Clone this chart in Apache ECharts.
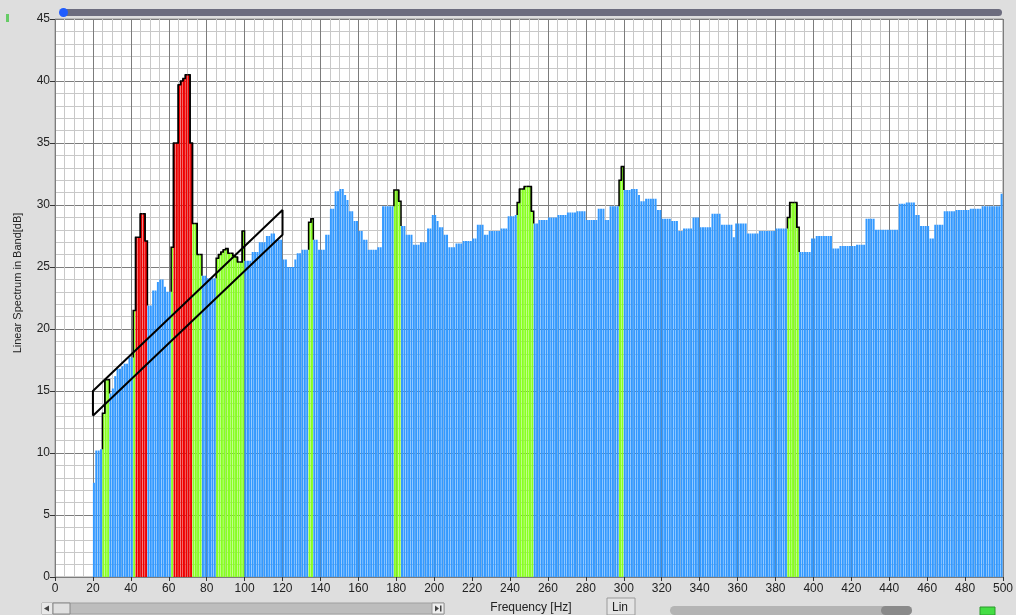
<!DOCTYPE html>
<html>
<head>
<meta charset="utf-8">
<script src="https://cdn.jsdelivr.net/npm/echarts@6.0.0/dist/echarts.min.js"></script>
<style>
  html, body { margin: 0; padding: 0; background: #dedede; }
  #chart { width: 1016px; height: 615px; }
</style>
</head>
<body>
<div id="chart"></div>
<script>
// ---- data ----
const binStart = 20;      // Hz, first band start
const binWidth = 1.25;    // Hz, band width
// Linear spectrum in band [dB], one value per band, 20..500 Hz
const spectrum = [
  7.6,10.2,10.2,10.3,13.2,15.9,15.9,14.8,
  15.2,16.2,16.8,16.8,17.0,17.2,17.2,17.7,
  17.7,21.5,27.4,27.4,29.3,29.3,27.1,21.9,
  21.9,23.1,23.1,23.8,24.0,24.0,23.4,23.0,
  23.0,26.6,35.0,35.0,39.7,40.0,40.2,40.5,
  40.5,35.0,28.5,28.5,26.0,26.0,24.3,24.3,
  24.1,24.1,24.1,24.1,25.7,26.0,26.2,26.4,
  26.5,26.1,26.1,25.9,25.8,25.4,25.4,27.9,
  25.5,25.5,25.5,26.2,26.2,26.2,27.0,27.0,
  27.0,27.5,27.5,27.7,27.7,27.2,27.2,27.2,
  25.6,25.6,25.0,25.0,25.0,25.6,26.1,26.1,
  26.4,26.4,26.4,28.6,28.9,27.2,27.2,26.4,
  26.4,26.4,27.6,27.6,29.7,29.7,31.1,31.1,
  31.3,31.3,30.8,30.4,29.5,29.5,28.7,28.7,
  27.9,27.9,27.2,27.2,26.4,26.4,26.4,26.4,
  26.6,26.6,29.9,29.9,29.9,29.9,29.9,31.2,
  31.2,30.3,28.3,28.3,27.6,27.6,27.6,26.8,
  26.8,26.8,27.0,27.0,27.0,28.1,28.1,29.2,
  29.2,28.7,28.2,28.2,27.6,27.6,26.6,26.6,
  26.6,26.9,26.9,26.9,27.1,27.1,27.1,27.1,
  27.3,27.3,28.4,28.4,28.4,27.6,27.6,27.9,
  27.9,27.9,27.9,27.9,28.1,28.1,28.1,29.1,
  29.1,29.1,29.2,30.2,31.3,31.3,31.5,31.5,
  31.5,29.5,28.5,28.5,28.8,28.8,28.8,28.8,
  29.0,29.0,29.0,29.0,29.2,29.2,29.2,29.2,
  29.4,29.4,29.4,29.4,29.5,29.5,29.5,29.5,
  28.8,28.8,28.8,28.8,28.8,29.7,29.7,29.7,
  28.8,28.8,29.9,29.9,29.9,29.9,32.0,33.1,
  31.2,31.2,31.2,31.3,31.3,31.3,30.8,30.3,
  30.3,30.5,30.5,30.5,30.5,30.5,29.6,29.6,
  28.9,28.9,28.9,28.9,28.7,28.7,28.7,27.9,
  27.9,28.1,28.1,28.1,28.1,29.0,29.0,29.0,
  28.2,28.2,28.2,28.2,28.2,29.3,29.3,29.3,
  29.3,28.4,28.4,28.4,28.4,28.4,27.4,28.5,
  28.5,28.5,28.5,28.5,27.7,27.7,27.7,27.7,
  27.7,27.9,27.9,27.9,27.9,27.9,27.9,27.9,
  28.1,28.1,28.1,28.1,28.1,29.0,30.2,30.2,
  30.2,28.2,26.2,26.2,26.2,26.2,26.2,27.3,
  27.3,27.5,27.5,27.5,27.5,27.5,27.5,27.5,
  26.5,26.5,26.5,26.7,26.7,26.7,26.7,26.7,
  26.7,26.7,26.8,26.8,26.8,26.8,28.9,28.9,
  28.9,28.9,28.0,28.0,28.0,28.0,28.0,28.0,
  28.0,28.0,28.0,28.0,30.1,30.1,30.1,30.2,
  30.2,30.2,30.2,29.2,29.2,28.3,28.3,28.3,
  28.3,27.3,27.3,28.4,28.4,28.4,28.4,29.5,
  29.5,29.5,29.5,29.5,29.6,29.6,29.6,29.6,
  29.6,29.6,29.7,29.7,29.7,29.7,29.7,29.9,
  29.9,29.9,29.9,29.9,29.9,29.9,29.9,30.9
];
// frequency ranges [Hz] of bands flagged green / red
const greenBands = [[25,28.75],[41.25,42.5],[61.25,62.5],[72.5,77.5],[85,100],
  [133.75,136.25],[178.75,182.5],[243.75,252.5],[297.5,300],[386.25,392.5]];
const redBands = [[42.5,48.75],[62.5,72.5]];
// alarm mask outline [Hz, dB]
const maskPoints = [[20,13],[20,15],[120,29.6],[120,27.6],[20,13]];
const xMin = 0, xMax = 500, xStep = 20;
const yMin = 0, yMax = 45, yStep = 5;

// ---- build ----
const COLORS = ['#3399ff', '#88ff22', '#ee0000'];
function inBands(f, bands) { return bands.some(b => f > b[0] && f < b[1]); }
const bands = spectrum.map((v, i) => {
  const c = binStart + binWidth * (i + 0.5);
  const cls = inBands(c, redBands) ? 2 : (inBands(c, greenBands) ? 1 : 0);
  const prev = i > 0 ? spectrum[i - 1] : 0;
  const next = i < spectrum.length - 1 ? spectrum[i + 1] : 0;
  return [c, v, cls, prev, next];
});

const chart = echarts.init(document.getElementById('chart'), null, { renderer: 'canvas' });
const FONT = 'Liberation Sans';
const GAP = 0.4;

function barItem(params, api) {
  const c = api.value(0), v = api.value(1), cls = api.value(2);
  const h = binWidth / 2;
  const tl = api.coord([c - h, v]);
  const br = api.coord([c + h, 0]);
  return {
    type: 'rect',
    shape: { x: tl[0], y: tl[1], width: Math.max(br[0] - tl[0] - GAP, 0.4), height: br[1] - tl[1] },
    style: { fill: COLORS[cls] }
  };
}
function outlineItem(params, api) {
  const cls = api.value(2);
  if (!cls) return null;
  const c = api.value(0), v = api.value(1), prev = api.value(3), next = api.value(4);
  const h = binWidth / 2;
  const tl = api.coord([c - h, v]);
  const br = api.coord([c + h, 0]);
  const yp = api.coord([c, prev])[1];
  const yn = api.coord([c, next])[1];
  return {
    type: 'polyline',
    shape: { points: [[tl[0], yp], [tl[0], tl[1]], [br[0], tl[1]], [br[0], yn]] },
    style: { stroke: '#000', lineWidth: 1.5, fill: null }
  };
}

const option = {
  animation: false,
  backgroundColor: '#dedede',
  grid: { left: 55, right: 8, top: 19, bottom: 38, show: true, backgroundColor: '#ffffff', borderColor: '#9a9a9a', borderWidth: 1 },
  xAxis: {
    type: 'value', min: xMin, max: xMax, interval: xStep, offset: 3,
    axisLine: { show: false },
    axisTick: { show: true, length: 4, lineStyle: { color: '#333' } },
    axisLabel: { color: '#222', fontFamily: FONT, fontSize: 12, margin: 3 },
    splitLine: { show: true, lineStyle: { color: '#7c7c7c', width: 1 } },
    minorTick: { show: false, splitNumber: 4 },
    minorSplitLine: { show: true, lineStyle: { color: '#c8c8c8', width: 1 } }
  },
  yAxis: {
    type: 'value', min: yMin, max: yMax, interval: yStep, offset: 3,
    axisLine: { show: false },
    axisTick: { show: true, length: 5, lineStyle: { color: '#333' } },
    axisLabel: { color: '#222', fontFamily: FONT, fontSize: 12, margin: 2 },
    splitLine: { show: true, lineStyle: { color: '#7c7c7c', width: 1 } },
    minorTick: { show: false, splitNumber: 5 },
    minorSplitLine: { show: true, lineStyle: { color: '#c8c8c8', width: 1 } }
  },
  series: [
    { type: 'custom', renderItem: barItem, data: bands, clip: true, z: 2 },
    { type: 'custom', renderItem: outlineItem, data: bands, clip: true, z: 3 },
    { type: 'line', data: maskPoints, symbol: 'none', z: 4,
      lineStyle: { color: '#000', width: 2 } }
  ],
  graphic: [
    // vertical axis title
    { type: 'text', x: 18, y: 283, rotation: Math.PI / 2,
      style: { text: 'Linear Spectrum in Band[dB]', fontFamily: FONT, fontSize: 11, fill: '#222', align: 'center', verticalAlign: 'middle' } },
    // top scroll bar
    { type: 'rect', shape: { x: 60, y: 9, width: 942, height: 7, r: 3.5 }, style: { fill: '#6c6c7e' } },
    { type: 'circle', shape: { cx: 63.5, cy: 12.5, r: 4.5 }, style: { fill: '#1f5cff' } },
    { type: 'rect', shape: { x: 6, y: 14, width: 3, height: 8 }, style: { fill: '#66cc66' } },
    // bottom left scrollbar
    { type: 'rect', shape: { x: 42, y: 603, width: 402, height: 11 }, style: { fill: '#bdbdbd', stroke: '#a0a0a0', lineWidth: 1 } },
    { type: 'rect', shape: { x: 42, y: 603, width: 10, height: 11 }, style: { fill: '#e8e8e8' } },
    { type: 'polygon', shape: { points: [[44, 608.5], [49, 605.5], [49, 611.5]] }, style: { fill: '#444' } },
    { type: 'rect', shape: { x: 53, y: 603, width: 17, height: 11 }, style: { fill: '#e0e0e0', stroke: '#888', lineWidth: 1 } },
    { type: 'rect', shape: { x: 432, y: 603, width: 12, height: 11 }, style: { fill: '#eeeeee', stroke: '#999', lineWidth: 1 } },
    { type: 'polygon', shape: { points: [[435, 605.5], [439, 608.5], [435, 611.5]] }, style: { fill: '#444' } },
    { type: 'rect', shape: { x: 440, y: 605.5, width: 1.5, height: 6 }, style: { fill: '#444' } },
    // axis title
    { type: 'text', x: 531, y: 608, style: { text: 'Frequency [Hz]', fontFamily: FONT, fontSize: 12, fill: '#222', align: 'center', verticalAlign: 'middle' } },
    // Lin box
    { type: 'rect', shape: { x: 607, y: 598, width: 28, height: 17 }, style: { fill: '#e4e4e4', stroke: '#9a9a9a', lineWidth: 1 } },
    { type: 'text', x: 612, y: 608, style: { text: 'Lin', fontFamily: FONT, fontSize: 12, fill: '#222', align: 'left', verticalAlign: 'middle' } },
    // right scrollbar
    { type: 'rect', shape: { x: 670, y: 606, width: 242, height: 9, r: 4.5 }, style: { fill: '#b4b4b4' } },
    { type: 'rect', shape: { x: 881, y: 606, width: 31, height: 9, r: 4.5 }, style: { fill: '#8a8a8a' } },
    // indicator
    { type: 'rect', shape: { x: 980, y: 607, width: 15, height: 8 }, style: { fill: '#44dd44', stroke: '#2a9a2a', lineWidth: 1 } }
  ]
};
chart.setOption(option);
</script>
</body>
</html>
